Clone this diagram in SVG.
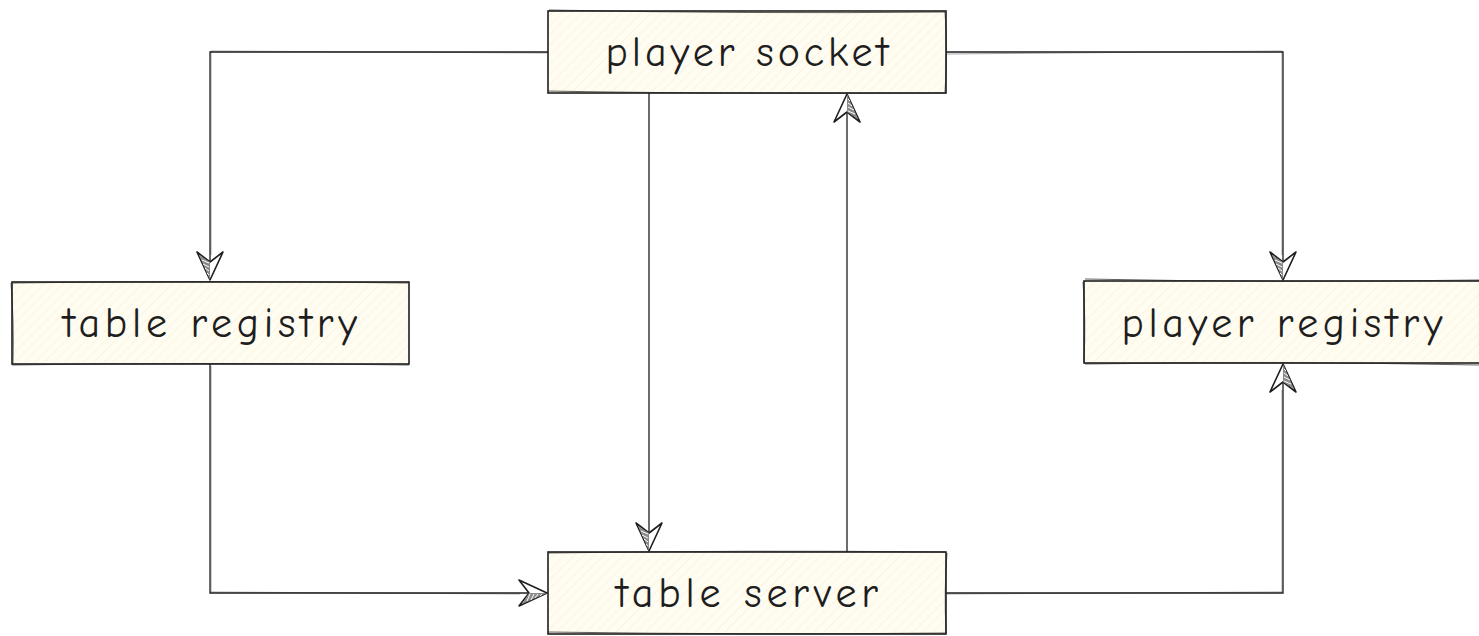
<svg xmlns="http://www.w3.org/2000/svg" width="1479" height="636" viewBox="0 0 1479 636">
<defs>
<style>
.box{fill:url(#hatch);stroke:#1e1e1e;stroke-width:1.6}
.box2{fill:none;stroke:#1e1e1e;stroke-width:1;opacity:0.7}
.lbl{font-family:"Comic Neue","Liberation Sans",sans-serif;font-size:42px;fill:#1e1e1e;text-anchor:middle}
.edge{fill:none;stroke:#1e1e1e;stroke-width:1.3}
.edge2{fill:none;stroke:#1e1e1e;stroke-width:0.8;opacity:0.5}
</style>
<pattern id="hatch" patternUnits="userSpaceOnUse" width="7" height="7" patternTransform="rotate(45)">
<rect width="7" height="7" fill="#fffcf2"/>
<line x1="0" y1="0" x2="0" y2="7" stroke="#fbf0d4" stroke-width="1.2"/>
</pattern>
<marker id="arr" markerUnits="userSpaceOnUse" markerWidth="34" markerHeight="30" refX="28" refY="13" orient="auto" overflow="visible">
<path d="M0,0 L28,13 L0,26 L10,13 Z" fill="#fff" stroke="#1e1e1e" stroke-width="1.6" stroke-linejoin="round"/>
<path d="M10,13 L28,13 L3,24 Z" fill="#8a8a8a"/>
<path d="M11,14 L8,21 M15,14 L12,20 M19,14 L16,18 M23,14 L21,16" stroke="#fff" stroke-width="1" fill="none"/>
</marker>
</defs>

<g id="connectors">
<path class="edge" d="M548,52 L210,52 L210,280" marker-end="url(#arr)"/>
<path class="edge2" d="M547,53 L211,51 L211,255"/>
<path class="edge" d="M946,52 L1283,52 L1283,280" marker-end="url(#arr)"/>
<path class="edge2" d="M947,54 L1282,51 L1282,255"/>
<path class="edge" d="M649,93 L649,551" marker-end="url(#arr)"/>
<path class="edge" d="M847,552 L847,94" marker-end="url(#arr)"/>
<path class="edge" d="M210,364 L210,593 L547,593" marker-end="url(#arr)"/>
<path class="edge2" d="M211,366 L211,592 L520,594"/>
<path class="edge" d="M946,593 L1283,593 L1283,364" marker-end="url(#arr)"/>
<path class="edge2" d="M947,594 L1282,592 L1282,390"/>
</g>

<g id="player-socket">
<rect class="box" x="548" y="11" width="398" height="82"/>
<path class="box2" d="M549,10 Q750,14 945,12 Q948,50 945,92 M548,91 Q700,94 946,93"/>
<text class="lbl" x="747" y="66" textLength="283" lengthAdjust="spacing">player socket</text>
</g>

<g id="table-registry">
<rect class="box" x="12" y="282" width="397" height="82"/>
<path class="box2" d="M13,283 Q200,280 408,283 M11,283 Q14,320 13,363 M12,365 Q200,362 409,365"/>
<text class="lbl" x="210" y="337" textLength="294" lengthAdjust="spacing">table registry</text>
</g>

<g id="player-registry">
<rect class="box" x="1084" y="281" width="398" height="82"/>
<path class="box2" d="M1085,279 Q1280,283 1479,280 M1083,282 Q1086,320 1084,362 M1085,364 Q1280,361 1479,365"/>
<text class="lbl" x="1282" y="337" textLength="321" lengthAdjust="spacing">player registry</text>
</g>

<g id="table-server">
<rect class="box" x="548" y="552" width="398" height="82"/>
<path class="box2" d="M549,553 Q750,550 945,552 M947,553 Q944,590 946,633 M548,632 Q750,635 946,633"/>
<text class="lbl" x="747" y="607" textLength="262" lengthAdjust="spacing">table server</text>
</g>
</svg>
